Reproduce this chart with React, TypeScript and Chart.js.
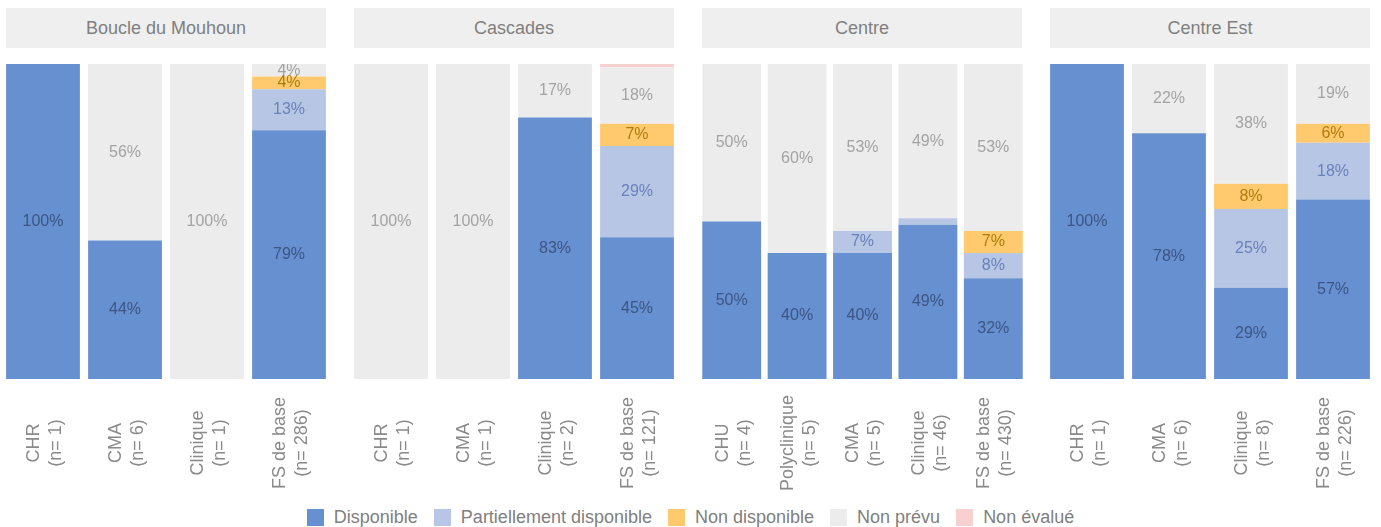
import React, { useEffect, useRef } from "react";
import { Chart, registerables } from "chart.js";

Chart.register(...registerables);

const FONT = "'Liberation Sans', Arial, Helvetica, sans-serif";

const facetNames = ["Boucle du Mouhoun", "Cascades", "Centre", "Centre Est"];

const categoriesBoucle = [["CHR", "(n= 1)"], ["CMA", "(n= 6)"], ["Clinique", "(n= 1)"], ["FS de base", "(n= 286)"]];
const categoriesCascades = [["CHR", "(n= 1)"], ["CMA", "(n= 1)"], ["Clinique", "(n= 2)"], ["FS de base", "(n= 121)"]];
const categoriesCentre = [["CHU", "(n= 4)"], ["Polyclinique", "(n= 5)"], ["CMA", "(n= 5)"], ["Clinique", "(n= 46)"], ["FS de base", "(n= 430)"]];
const categoriesCentreEst = [["CHR", "(n= 1)"], ["CMA", "(n= 6)"], ["Clinique", "(n= 8)"], ["FS de base", "(n= 226)"]];

const seriesNames = ["Disponible", "Partiellement disponible", "Non disponible", "Non prévu", "Non évalué"];

// Boucle du Mouhoun
const dispBoucle = [100, 44, 0, 79];
const partBoucle = [0, 0, 0, 13];
const nonDispBoucle = [0, 0, 0, 4];
const nonPrevuBoucle = [0, 56, 100, 4];
const nonEvalBoucle = [0, 0, 0, 0];

// Cascades
const dispCascades = [0, 0, 83, 45];
const partCascades = [0, 0, 0, 29];
const nonDispCascades = [0, 0, 0, 7];
const nonPrevuCascades = [100, 100, 17, 18];
const nonEvalCascades = [0, 0, 0, 1];

// Centre
const dispCentre = [50, 40, 40, 49, 32];
const partCentre = [0, 0, 7, 2, 8];
const nonDispCentre = [0, 0, 0, 0, 7];
const nonPrevuCentre = [50, 60, 53, 49, 53];
const nonEvalCentre = [0, 0, 0, 0, 0];

// Centre Est
const dispCentreEst = [100, 78, 29, 57];
const partCentreEst = [0, 0, 25, 18];
const nonDispCentreEst = [0, 0, 8, 6];
const nonPrevuCentreEst = [0, 22, 38, 19];
const nonEvalCentreEst = [0, 0, 0, 0];

const fillColors = ["#6790d0", "#b8c6e6", "#ffc96e", "#ececec", "#f8d0d0"];
const labelColors = ["#3b5685", "#6a80b8", "#b07c0c", "#a3a3a3", "#c08080"];

const facets = [
  { name: facetNames[0], cats: categoriesBoucle, series: [dispBoucle, partBoucle, nonDispBoucle, nonPrevuBoucle, nonEvalBoucle] },
  { name: facetNames[1], cats: categoriesCascades, series: [dispCascades, partCascades, nonDispCascades, nonPrevuCascades, nonEvalCascades] },
  { name: facetNames[2], cats: categoriesCentre, series: [dispCentre, partCentre, nonDispCentre, nonPrevuCentre, nonEvalCentre] },
  { name: facetNames[3], cats: categoriesCentreEst, series: [dispCentreEst, partCentreEst, nonDispCentreEst, nonPrevuCentreEst, nonEvalCentreEst] },
];

const PANEL_LEFTS = [6, 354, 702, 1050];
const PANEL_W = 320;
const CANVAS_TOP = 64;
const PLOT_H = 315;
const AXIS_H = 122;

const valueLabelPlugin = {
  id: "valueLabels",
  afterDatasetsDraw(chart: any) {
    const ctx = chart.ctx;
    ctx.save();
    ctx.font = `16px ${FONT}`;
    ctx.textAlign = "center";
    ctx.textBaseline = "middle";
    chart.data.datasets.forEach((ds: any, di: number) => {
      const meta = chart.getDatasetMeta(di);
      meta.data.forEach((bar: any, i: number) => {
        const v = ds.data[i];
        if (v >= 3) {
          ctx.fillStyle = labelColors[di];
          ctx.fillText(`${v}%`, bar.x, (bar.y + bar.base) / 2);
        }
      });
    });
    ctx.restore();
  },
};

const xLabelPlugin = {
  id: "xLabels",
  afterDraw(chart: any) {
    const ctx = chart.ctx;
    const xs = chart.scales.x;
    const cy = chart.chartArea.bottom + 64;
    const lh = 22;
    ctx.save();
    ctx.font = `18px ${FONT}`;
    ctx.fillStyle = "#8a8a8a";
    ctx.textAlign = "center";
    ctx.textBaseline = "middle";
    chart.data.labels.forEach((lab: any, i: number) => {
      const lines = Array.isArray(lab) ? lab : [lab];
      const x = xs.getPixelForValue(i);
      ctx.save();
      ctx.translate(x, cy);
      ctx.rotate(-Math.PI / 2);
      lines.forEach((t: string, k: number) => {
        ctx.fillText(t, 0, (k - (lines.length - 1) / 2) * lh + 2);
      });
      ctx.restore();
    });
    ctx.restore();
  },
};

function Panel({ facet, left }: { facet: any; left: number }) {
  const ref = useRef<HTMLCanvasElement>(null);
  const n = facet.cats.length;
  const c = PANEL_W / (n - 0.1);
  const over = 0.05 * c;
  const cw = Math.round(PANEL_W + 2 * over);
  const cl = left - over;

  useEffect(() => {
    if (!ref.current) return;
    const chart = new Chart(ref.current, {
      type: "bar",
      data: {
        labels: facet.cats,
        datasets: facet.series.map((d: number[], i: number) => ({
          label: seriesNames[i],
          data: d,
          backgroundColor: fillColors[i],
          borderWidth: 0,
          barPercentage: 0.9,
          categoryPercentage: 1.0,
        })),
      },
      options: {
        responsive: false,
        animation: false,
        layout: { padding: { left: 0, right: 0, top: 0, bottom: AXIS_H } },
        plugins: { legend: { display: false }, tooltip: { enabled: false } },
        scales: {
          x: { stacked: true, display: false, offset: true },
          y: { stacked: true, display: false, min: 0, max: 100 },
        },
      },
      plugins: [valueLabelPlugin, xLabelPlugin],
    });
    return () => chart.destroy();
  }, []);

  return (
    <>
      <div
        style={{
          position: "absolute",
          left,
          top: 8,
          width: PANEL_W,
          height: 40,
          background: "#efefef",
          color: "#7f7f7f",
          fontSize: 18,
          lineHeight: "40px",
          textAlign: "center",
          fontFamily: FONT,
        }}
      >
        {facet.name}
      </div>
      <canvas
        ref={ref}
        width={cw}
        height={PLOT_H + AXIS_H}
        style={{ position: "absolute", left: cl, top: CANVAS_TOP, width: cw, height: PLOT_H + AXIS_H }}
      />
    </>
  );
}

export default function App() {
  return (
    <div style={{ position: "absolute", left: 0, top: 0, width: 1381, height: 527, background: "#fff", fontFamily: FONT }}>
      {facets.map((f, i) => (
        <Panel key={f.name} facet={f} left={PANEL_LEFTS[i]} />
      ))}
      <div
        style={{
          position: "absolute",
          left: 0,
          top: 507,
          width: 1381,
          height: 20,
          display: "flex",
          justifyContent: "center",
          alignItems: "center",
          fontSize: 18,
          color: "#808080",
        }}
      >
        {seriesNames.map((s, i) => (
          <div key={s} style={{ display: "flex", alignItems: "center", marginRight: i < seriesNames.length - 1 ? 16 : 0 }}>
            <span style={{ display: "inline-block", width: 17, height: 17, background: fillColors[i], marginRight: 10 }} />
            <span style={{ lineHeight: "20px" }}>{s}</span>
          </div>
        ))}
      </div>
    </div>
  );
}
